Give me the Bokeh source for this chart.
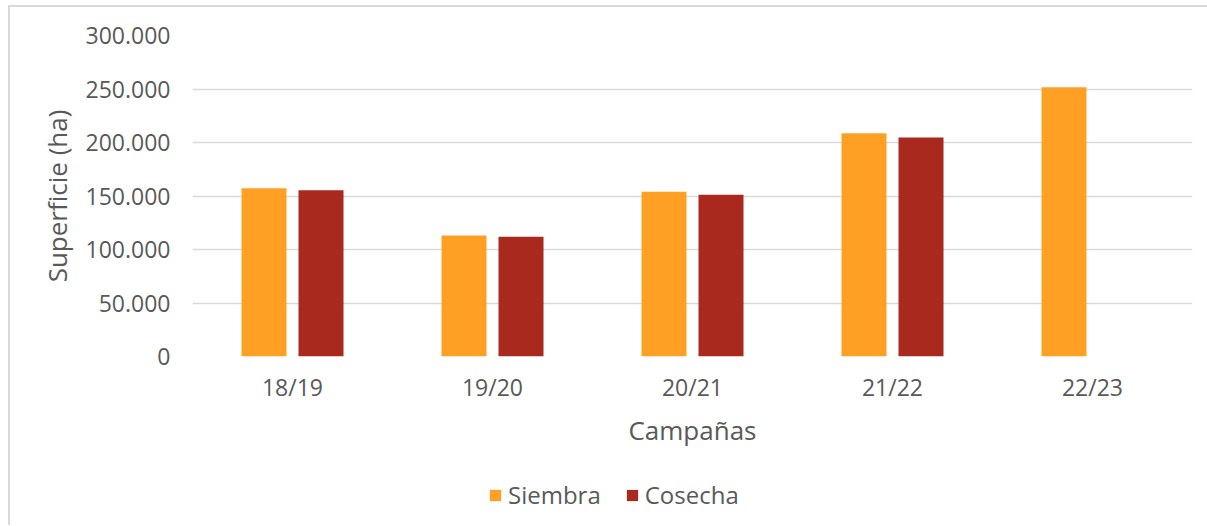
import numpy as np
from bokeh.plotting import figure
from bokeh.layouts import column
from bokeh.models import ColumnDataSource, FactorRange, Legend, LegendItem, CustomJSTickFormatter, Range1d
from bokeh.transform import dodge
from bokeh.embed import file_html
from bokeh.resources import INLINE

campaigns = ["18/19", "19/20", "20/21", "21/22", "22/23"]
siembra = [157300, 113100, 153900, 208700, 251700]
cosecha = [155400, 111900, 151100, 204700, np.nan]
y_ticks = [0, 50000, 100000, 150000, 200000, 250000, 300000]
series_names = ["Siembra", "Cosecha"]

FONT = "Open Sans"
TXT = "#595959"
ORANGE = "#FFA024"
RED = "#A9291F"

source = ColumnDataSource(data=dict(campaign=campaigns, siembra=siembra, cosecha=cosecha))

p = figure(
    x_range=FactorRange(*campaigns, range_padding=0),
    y_range=(0, 300000),
    width=1197, height=450,
    output_backend="svg", toolbar_location=None,
    min_border_left=182, min_border_right=15, min_border_top=28, min_border_bottom=101,
)
p.outline_line_color = None
p.border_fill_color = "white"

p.vbar(x=dodge("campaign", -0.1425, range=p.x_range), top="siembra", width=0.225,
       source=source, fill_color=ORANGE, line_color=None)
p.vbar(x=dodge("campaign", 0.1425, range=p.x_range), top="cosecha", width=0.225,
       source=source, fill_color=RED, line_color=None)

p.xgrid.grid_line_color = None
p.ygrid.grid_line_color = "#d9d9d9"
p.ygrid.grid_line_width = 1.5
p.yaxis.ticker = y_ticks
p.yaxis.formatter = CustomJSTickFormatter(code="""
return Math.round(tick).toFixed(0).replace(/\\B(?=(\\d{3})+(?!\\d))/g, ".");
""")

for ax in (p.xaxis[0], p.yaxis[0]):
    ax.axis_line_color = None
    ax.major_tick_line_color = None
    ax.minor_tick_line_color = None
    ax.major_tick_out = 0
    ax.major_tick_in = 0
    ax.major_label_text_font = FONT
    ax.major_label_text_font_size = "23px"
    ax.major_label_text_color = TXT
    ax.axis_label_text_font = FONT
    ax.axis_label_text_font_size = "26px"
    ax.axis_label_text_color = TXT
    ax.axis_label_text_font_style = "normal"

p.xaxis.axis_label = "Campañas"
p.yaxis.axis_label = "Superficie (ha)"
p.xaxis.major_label_standoff = 14
p.xaxis.axis_label_standoff = 6
p.yaxis.major_label_standoff = 22
p.yaxis.axis_label_standoff = 8

# legend strip below the chart (legend proxies carry no drawable data)
leg = figure(width=1197, height=68, output_backend="svg", toolbar_location=None,
             x_range=Range1d(0, 1), y_range=Range1d(0, 1),
             x_axis_location=None, y_axis_location=None,
             min_border_left=0, min_border_right=0, min_border_top=0, min_border_bottom=0)
leg.outline_line_color = None
leg.grid.visible = False
leg.border_fill_color = "white"
proxy = ColumnDataSource(data=dict(x=[np.nan], top=[np.nan]))
lr1 = leg.vbar(x="x", top="top", width=0.2, source=proxy, fill_color=ORANGE, line_color=None)
lr2 = leg.vbar(x="x", top="top", width=0.2, source=proxy, fill_color=RED, line_color=None)

legend = Legend(items=[LegendItem(label=series_names[0], renderers=[lr1]),
                       LegendItem(label=series_names[1], renderers=[lr2])],
                orientation="horizontal", location=(296, 14))
legend.label_text_font = FONT
legend.label_text_font_size = "24px"
legend.label_text_color = TXT
legend.glyph_width = 14
legend.glyph_height = 14
legend.label_standoff = 6
legend.spacing = 24
legend.padding = 0
legend.margin = 0
legend.border_line_color = None
legend.background_fill_alpha = 0
leg.add_layout(legend, "center")

layout = column(p, leg, spacing=0)
layout.styles = {"border-top": "2px solid #d9d9d9", "border-left": "2px solid #d9d9d9",
                 "margin-left": "8px", "margin-top": "5px"}

open("out.html", "w").write(file_html(layout, INLINE))
